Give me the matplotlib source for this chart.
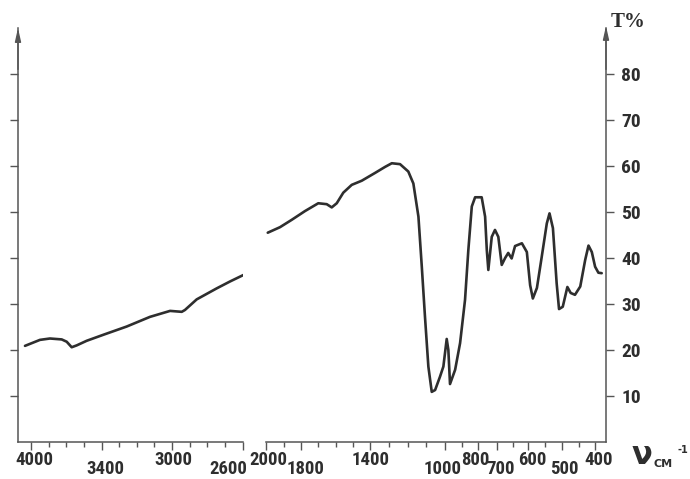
import numpy as np
import matplotlib
matplotlib.use("Agg")
import matplotlib.pyplot as plt
from matplotlib.ticker import FixedLocator, NullFormatter
from matplotlib import font_manager

# ---- spectrum, left part (4000-2600 cm-1)
wn_hi = np.array([4048, 3922, 3838, 3739, 3697, 3655, 3613, 3529, 3393, 3259,
                  3126, 3011, 2945, 2927, 2861, 2748, 2673, 2598])
t_hi = np.array([20.9, 22.2, 22.5, 22.3, 21.8, 20.6, 21.0, 22.0, 23.3, 25.1,
                 27.2, 28.5, 28.3, 28.7, 31.0, 33.4, 34.9, 36.3])

# ---- spectrum, right part (2000-400 cm-1)
wn_lo = np.array([1990, 1920, 1853, 1777, 1700, 1651, 1622, 1593, 1555, 1506,
                  1448, 1373, 1320, 1284, 1240, 1196, 1169, 1142, 1124, 1107,
                  1089, 1071, 1053, 1027, 1009, 990, 980, 970, 939, 909,
                  879, 859, 838, 818, 781, 763, 754, 746, 728, 711,
                  696, 685, 674, 664, 653, 642, 620, 604, 594, 586,
                  574, 560, 545, 537, 527, 516, 509, 498, 484, 474,
                  461, 445, 430, 420, 410, 400, 390, 380])
t_lo = np.array([45.5, 46.7, 48.3, 50.2, 51.9, 51.7, 51.0, 51.9, 54.2, 55.9,
                 56.8, 58.5, 59.8, 60.6, 60.4, 58.8, 56.2, 49.0, 38.1, 27.2,
                 16.4, 10.9, 11.3, 14.2, 16.4, 22.4, 20.0, 12.6, 15.7, 21.5,
                 30.9, 41.7, 51.2, 53.2, 53.2, 49.0, 41.7, 37.4, 44.6, 46.1,
                 44.6, 38.5, 40.0, 41.1, 39.9, 42.6, 43.2, 41.3, 34.1, 31.2,
                 33.5, 40.2, 47.5, 49.7, 46.5, 34.5, 28.9, 29.4, 33.7, 32.4,
                 32.0, 33.8, 39.6, 42.7, 41.3, 38.1, 36.8, 36.7])

# tick values and labels
hi_major = [4000, 3400, 3000, 2600]
hi_minor = [3850, 3700, 3550, 3300, 3200, 3100, 2900, 2800, 2700]
lo_major = [2000, 1800, 1400, 1000, 800, 700, 600, 500, 400]
lo_minor = [1900, 1700, 1600, 1500, 1300, 1200, 1100, 900, 650, 550, 450]
t_ticks = [10, 20, 30, 40, 50, 60, 70, 80]

# non-linear wavenumber scale of the instrument (wavenumber -> chart position)
hi_knots_w = np.array([2500, 2600, 3000, 3400, 4000, 4200])
hi_knots_p = np.array([260.75, 243, 172, 102, 30.7, 7.0])
lo_knots_w = np.array([300, 400, 500, 600, 700, 800, 1000, 1400, 1800, 2000, 2200])
lo_knots_p = np.array([628, 595, 562, 528, 497, 478, 445, 370, 301, 266, 231])

# label placement: (x shift px, y below axis px) for each major label
hi_lab_pos = [(4, 18), (3, 27), (1, 18), (4, 27)]
lo_lab_pos = [(2, 18), (4, 27), (1, 18), (-2, 27), (-3, 18), (4, 27),
              (4, 18), (2, 27), (4, 18)]


def make_scale(kw, kp):
    # increasing in wavenumber, so the reversed limits read right-to-left
    fwd = lambda w: -np.interp(w, kw, kp)
    inv = lambda q: np.interp(-np.asarray(q), kp[::-1], kw[::-1])
    return fwd, inv


INK = "#2e2e2e"
AX = "#555555"
installed = {f.name for f in font_manager.fontManager.ttflist}
FONT = [f for f in ["Liberation Sans Narrow", "Roboto Condensed", "DejaVu Sans"]
        if f in installed]
STRETCH = "condensed"

W, H = 690, 479
fig = plt.figure(figsize=(W / 100, H / 100), dpi=100)
base, top = 442, 28
axh = (base - top) / H
ax1 = fig.add_axes([18 / W, (H - base) / H, (243 - 18) / W, axh])
ax2 = fig.add_axes([266 / W, (H - base) / H, (606 - 266) / W, axh])

ax1.set_xscale("function", functions=make_scale(hi_knots_w, hi_knots_p))
ax2.set_xscale("function", functions=make_scale(lo_knots_w, lo_knots_p))
ax1.set_xlim(4107, 2600)
ax2.set_xlim(2000, 367)

ax1.plot(wn_hi, t_hi, color=INK, lw=1.9, solid_capstyle="round")
ax2.plot(wn_lo, t_lo, color=INK, lw=1.9, solid_capstyle="round")

for ax in (ax1, ax2):
    ax.set_ylim(0, 90)
    ax.set_facecolor("none")
    ax.spines["top"].set_visible(False)
    for s in ax.spines.values():
        s.set_color(AX)
        s.set_linewidth(1.1)
    ax.tick_params(axis="x", which="both", direction="out", colors=AX, width=1.0,
                   labelbottom=False)
    ax.tick_params(axis="x", which="major", length=6)
    ax.tick_params(axis="x", which="minor", length=3.5)
    ax.yaxis.set_major_locator(FixedLocator(t_ticks))

ax1.spines["right"].set_visible(False)
ax2.spines["left"].set_visible(False)
ax1.xaxis.set_major_locator(FixedLocator(hi_major))
ax1.xaxis.set_minor_locator(FixedLocator(hi_minor))
ax2.xaxis.set_major_locator(FixedLocator(lo_major))
ax2.xaxis.set_minor_locator(FixedLocator(lo_minor))
ax1.xaxis.set_minor_formatter(NullFormatter())
ax2.xaxis.set_minor_formatter(NullFormatter())

ax1.tick_params(axis="y", direction="out", length=6, width=1.0, colors=AX, labelleft=False)
ax2.yaxis.tick_right()
ax2.tick_params(axis="y", direction="out", length=6, width=1.0, colors=AX, pad=5,
                labelcolor=INK, labelsize=14)
ax2.set_yticklabels([str(v) for v in t_ticks], family=FONT, weight="bold",
                    stretch=STRETCH)

# arrows on the top of the vertical axes
ax1.annotate("", xy=(0, 1.0), xytext=(0, 0.9), xycoords="axes fraction",
             arrowprops=dict(arrowstyle="-|>,head_length=0.8,head_width=0.18",
                             color=AX, lw=1.0, shrinkA=0, shrinkB=0))
ax2.annotate("", xy=(1, 1.005), xytext=(1, 0.9), xycoords="axes fraction",
             arrowprops=dict(arrowstyle="-|>,head_length=0.8,head_width=0.18",
                             color=AX, lw=1.0, shrinkA=0, shrinkB=0))

# staggered tick labels along the wavenumber axis
for ax, vals, pos in ((ax1, hi_major, hi_lab_pos), (ax2, lo_major, lo_lab_pos)):
    for v, (dx, dy) in zip(vals, pos):
        ha = "right" if v == 2600 else "center"
        ax.annotate(str(v), xy=(v, 0), xycoords=("data", "axes fraction"),
                    xytext=(dx * 0.72, -dy * 0.72), textcoords="offset points",
                    ha=ha, va="center", fontsize=13.5, weight="bold", stretch=STRETCH,
                    family=FONT, color=INK, annotation_clip=False)

fig.text(628 / W, 1 - 22 / H, "T%", ha="center", va="center", fontsize=15,
         weight="bold", family="Liberation Serif", color=INK)
fig.text(642 / W, 1 - 456 / H, "ν", ha="center", va="center", fontsize=22,
         weight="bold", family="DejaVu Sans", color=INK)
fig.text(663 / W, 1 - 464 / H, "СМ", ha="center", va="center", fontsize=8,
         weight="bold", family="DejaVu Sans", color=INK)
fig.text(683 / W, 1 - 450 / H, "-1", ha="center", va="center", fontsize=7,
         weight="bold", family="DejaVu Sans", color=INK)

fig.savefig("out.png", dpi=100)
